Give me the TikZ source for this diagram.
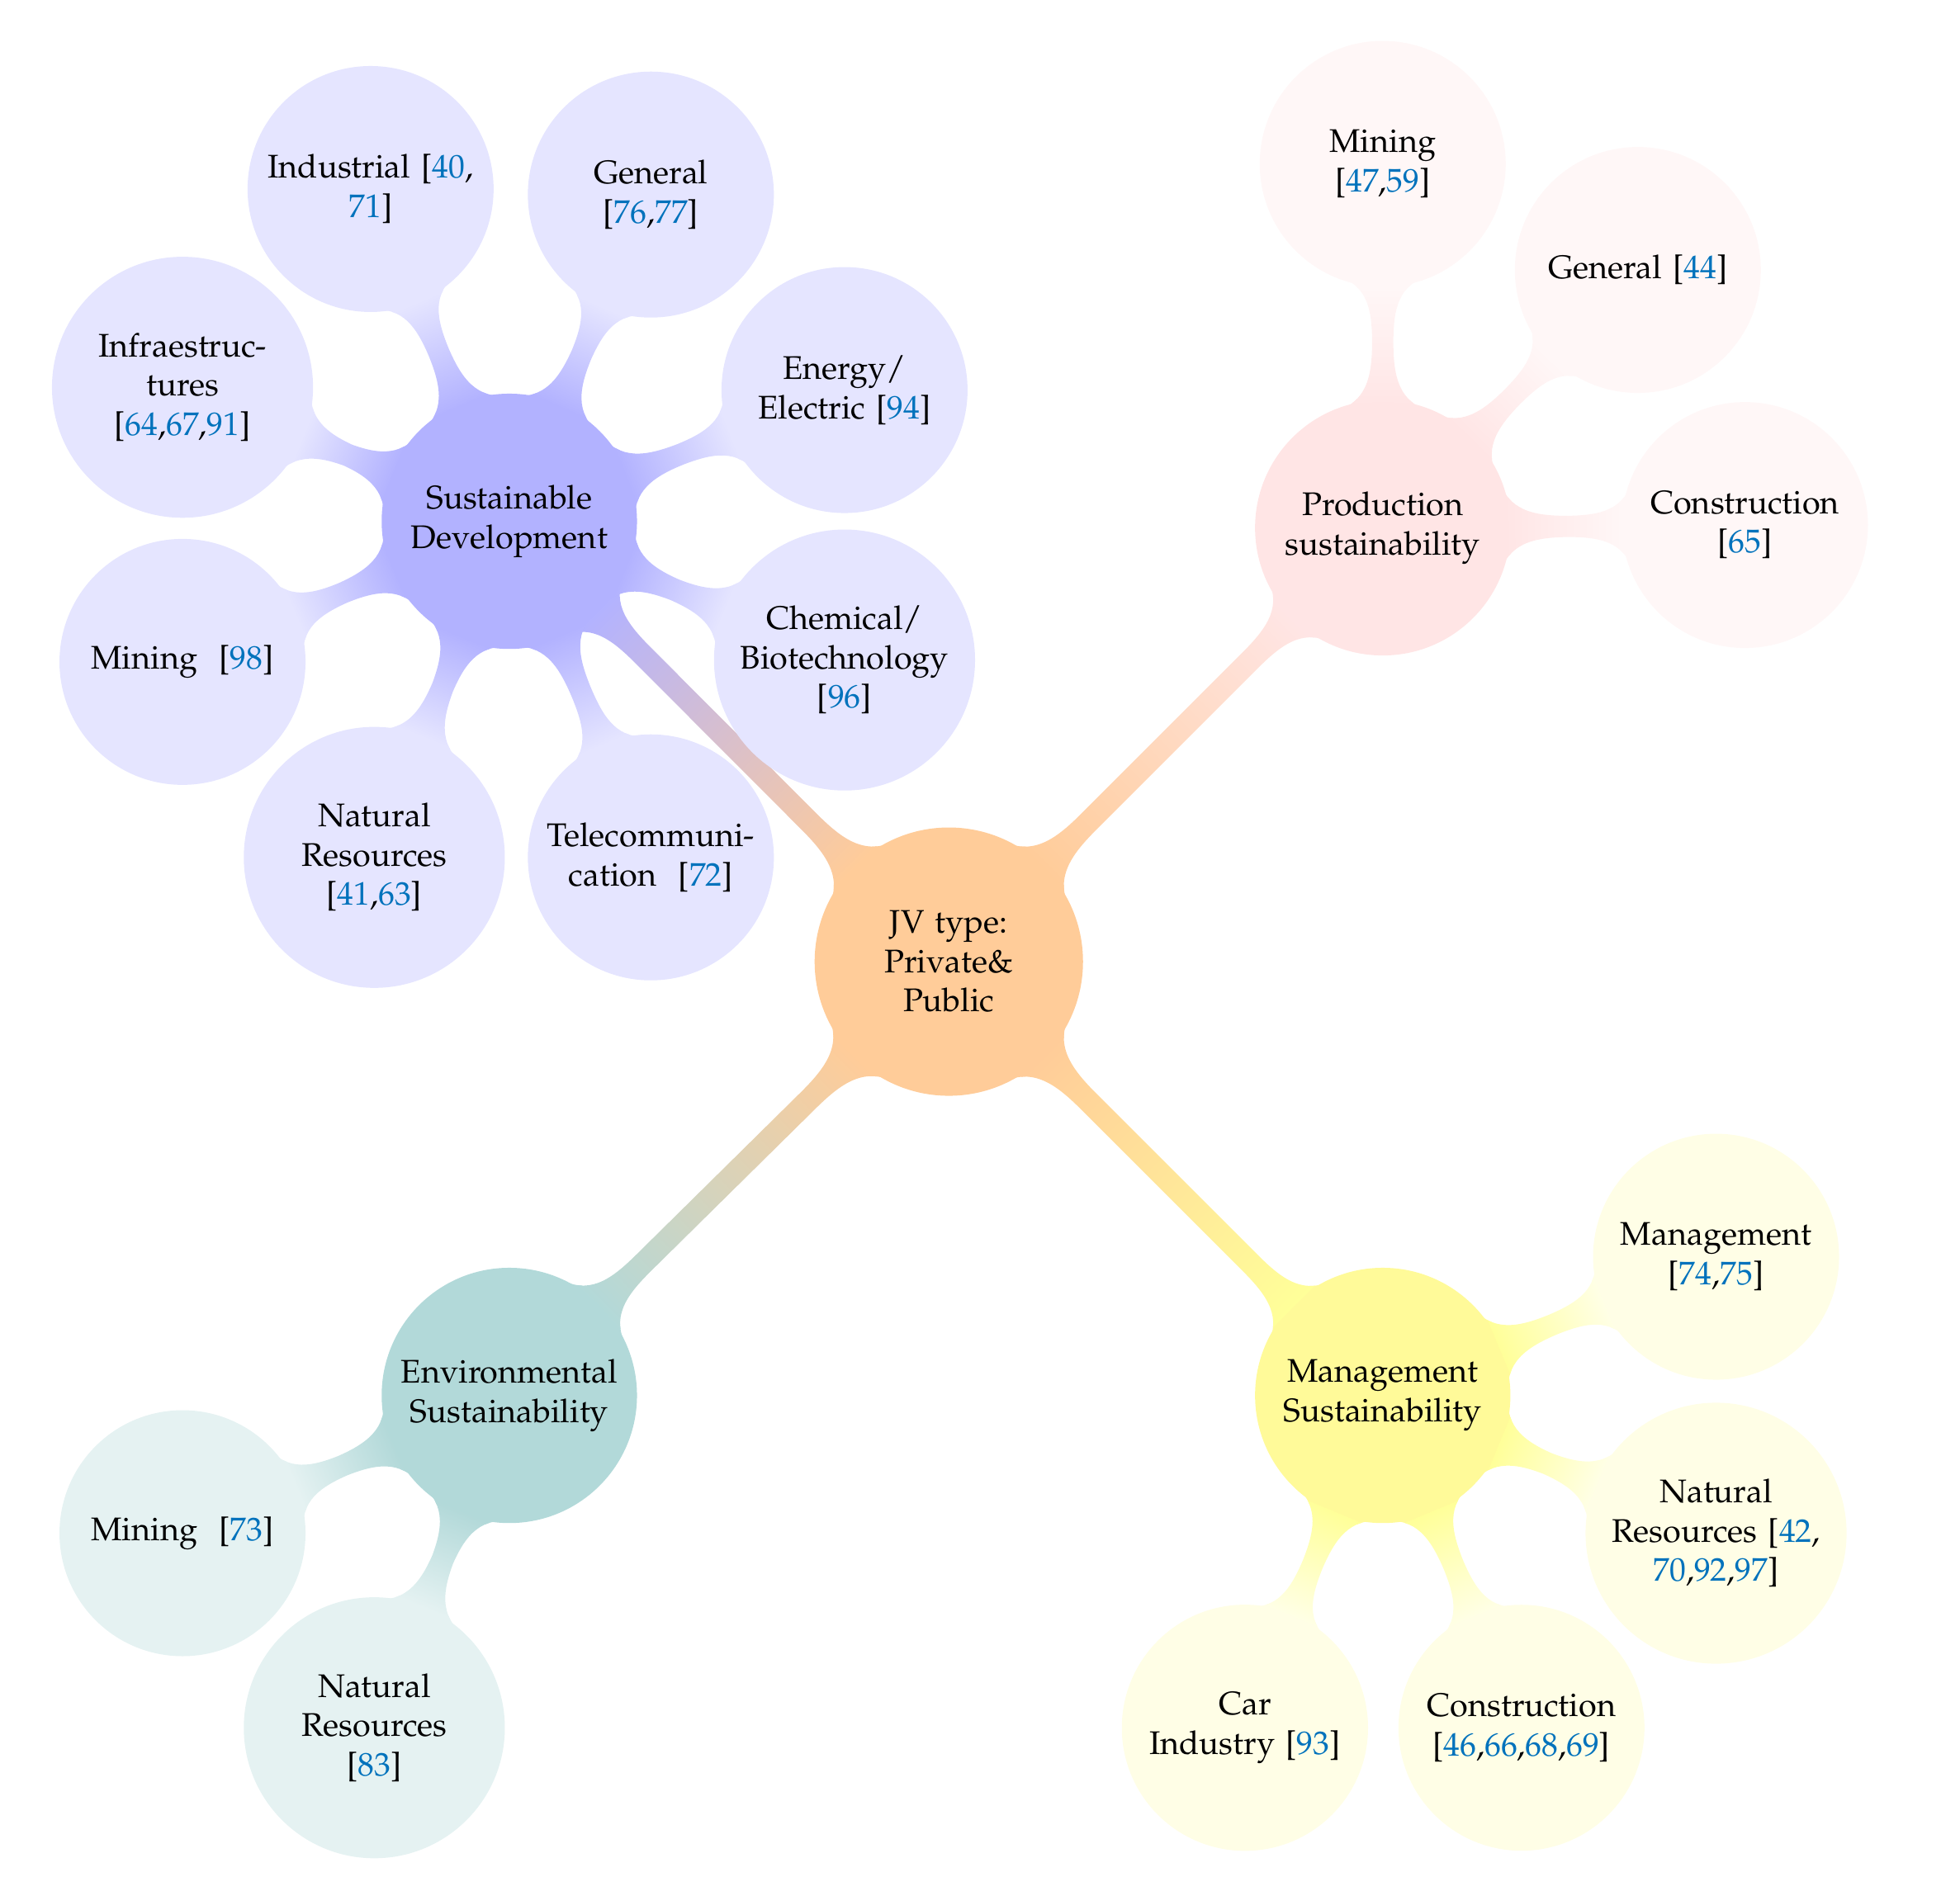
\documentclass[tikz,border=0pt]{standalone}
\usepackage[T1]{fontenc}
\usepackage{mathpazo}
\usetikzlibrary{mindmap}
\definecolor{citecol}{RGB}{0,114,188}
\newcommand{\rf}[1]{\textcolor{citecol}{#1}}
\tikzset{
  hub/.style={concept, minimum size=2.84cm, text width=2.4cm, align=center, font=\normalsize},
  branch/.style={concept, minimum size=2.7cm, text width=2.4cm, align=center, font=\normalsize},
  leaf/.style={concept, minimum size=2.6cm, text width=2.4cm, align=center, font=\normalsize},
  link/.style args={#1/#2}{circle connection bar switch color=from (#1) to (#2)}
}
\begin{document}
\begin{tikzpicture}[mindmap]
  \useasboundingbox (0,0) rectangle (21.05,-20.31);

  % hubs
  \node[hub, concept color=orange!40] (jv) at (10.19,-10.33) {JV type:\\Private\&\\Public};
  \node[branch, concept color=blue!30] (sd) at (5.47,-5.60) {Sustainable\\Development};
  \node[branch, concept color=red!10] (ps) at (14.85,-5.67) {Production\\sustainability};
  \node[branch, concept color=teal!30] (es) at (5.47,-14.99) {Environmental\\Sustainability};
  \node[branch, concept color=yellow!40] (ms) at (14.85,-14.99) {Management\\Sustainability};

  \path (jv) to[link=orange!40/blue!30] (sd);
  \path (jv) to[link=orange!40/red!10] (ps);
  \path (jv) to[link=orange!40/teal!30] (es);
  \path (jv) to[link=orange!40/yellow!40] (ms);

  % sustainable development
  \foreach \name/\x/\y/\txt in {
    sdind/3.98/-2.03/{Industrial [\rf{40},\\\rf{71}]},
    sdgen/6.99/-2.09/{General\\{[}\rf{76},\rf{77}{]}},
    sdene/9.07/-4.19/{Energy/\\Electric [\rf{94}]},
    sdche/9.07/-7.09/{Chemical/\\Biotechnology\\{[}\rf{96}{]}},
    sdtel/6.99/-9.21/{Telecommuni-\\cation\ \ [\rf{72}]},
    sdnat/4.02/-9.21/{Natural\\Resources\\{[}\rf{41},\rf{63}{]}},
    sdmin/1.96/-7.11/{Mining\ \ [\rf{98}]},
    sdinf/1.96/-4.16/{Infraestruc-\\tures\\{[}\rf{64},\rf{67},\rf{91}{]}}}
  {
    \node[leaf, concept color=blue!10] (\name) at (\x,\y) {\txt};
    \path (sd) to[link=blue!30/blue!10] (\name);
  }

  % production sustainability
  \foreach \name/\x/\y/\txt in {
    psmin/14.85/-1.76/{Mining\\{[}\rf{47},\rf{59}{]}},
    psgen/17.59/-2.90/{General [\rf{44}]},
    pscon/18.74/-5.64/{Construction [\rf{65}]}}
  {
    \node[leaf, concept color=red!3] (\name) at (\x,\y) {\txt};
    \path (ps) to[link=red!10/red!3] (\name);
  }

  % environmental sustainability
  \foreach \name/\x/\y/\txt in {
    esmin/1.96/-16.47/{Mining\ \ [\rf{73}]},
    esnat/4.02/-18.56/{Natural\\Resources\\{[}\rf{83}{]}}}
  {
    \node[leaf, concept color=teal!10] (\name) at (\x,\y) {\txt};
    \path (es) to[link=teal!30/teal!10] (\name);
  }

  % management sustainability
  \foreach \name/\x/\y/\txt in {
    msman/18.43/-13.50/{Management\\{[}\rf{74},\rf{75}{]}},
    msnat/18.43/-16.47/{Natural\\Resources [\rf{42},\\\rf{70},\rf{92},\rf{97}]},
    mscon/16.34/-18.56/{Construction\\{[}\rf{46},\rf{66},\rf{68},\rf{69}{]}},
    mscar/13.37/-18.56/{Car\\Industry [\rf{93}]}}
  {
    \node[leaf, concept color=yellow!10] (\name) at (\x,\y) {\txt};
    \path (ms) to[link=yellow!40/yellow!10] (\name);
  }
\end{tikzpicture}
\end{document}
